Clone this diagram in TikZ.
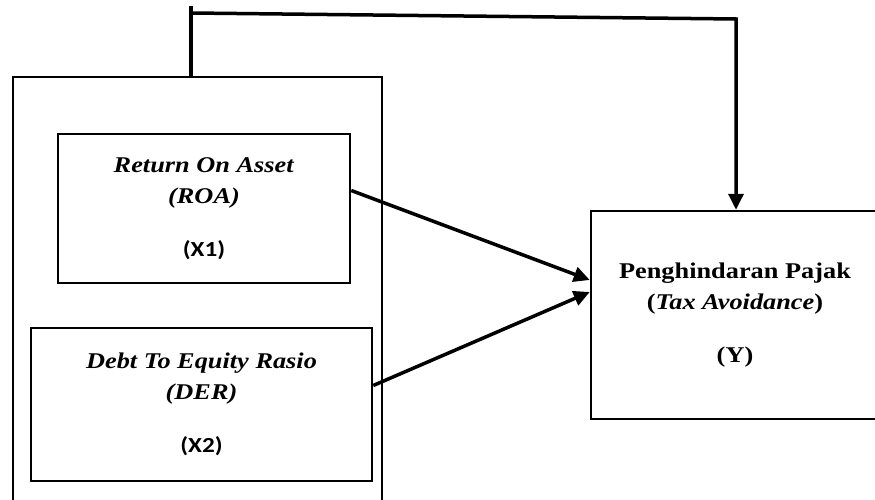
\documentclass[tikz,border=0pt]{standalone}
\usepackage{fontspec}
\setmainfont{Liberation Serif}
\newfontfamily\calib{Carlito}
\usepackage{tikz}
\usetikzlibrary{arrows.meta,positioning,calc}
\newcommand{\wide}[1]{\scalebox{1.17}[1]{#1}}
\newcommand{\code}[1]{\wide{\calib\fontsize{21.5}{31}\selectfont\bfseries #1}}

\begin{document}
\begin{tikzpicture}[x=1pt,y=-1pt,font=\fontsize{22.5}{31}\selectfont,>=Triangle]
\tikzset{box/.style={draw,line width=2.5pt,inner sep=0pt,align=center}, frame/.style={draw,line width=2pt,inner sep=0pt}, flow/.style={line width=3.5pt}, tip/.style={-{Triangle[length=16pt,width=15pt]}}}
\useasboundingbox (0,0) rectangle (875,500);
\clip (0,0) rectangle (875,500);
\node[frame,minimum width=369pt,minimum height=445pt] (outer) at (197.5,299.5) {};
\node[box,minimum width=292pt,minimum height=149pt] (roa) at (204,208.5) {\wide{\textbf{\textit{Return On Asset}}}\\\wide{\textbf{\textit{(ROA)}}}\\[22pt]\code{(X1)}};
\node[box,minimum width=341pt,minimum height=153pt] (der) at (201.5,404.5) {\wide{\textbf{\textit{Debt To Equity Rasio}}}\\\wide{\textbf{\textit{(DER)}}}\\[22pt]\code{(X2)}};
\node[box,minimum width=288pt,minimum height=208pt] (tax) at (735,315) {\wide{\textbf{Penghindaran Pajak}}\\\wide{\textbf{(\textit{Tax Avoidance})}}\\[22pt]\wide{\textbf{(Y)}}};
\coordinate (bendL) at (191,13);
\coordinate (bendR) at (736,19);
\draw[flow,tip] ([yshift=18pt]roa.east) -- ([yshift=35pt]tax.west);
\draw[flow,tip] ([yshift=19pt]der.east) -- ([yshift=23pt]tax.west);
\draw[flow] (outer.north -| bendL) -- ++(0,-70);
\draw[flow,tip] (bendL) -- (bendR) -- (tax.north -| bendR);
\end{tikzpicture}
\end{document}
